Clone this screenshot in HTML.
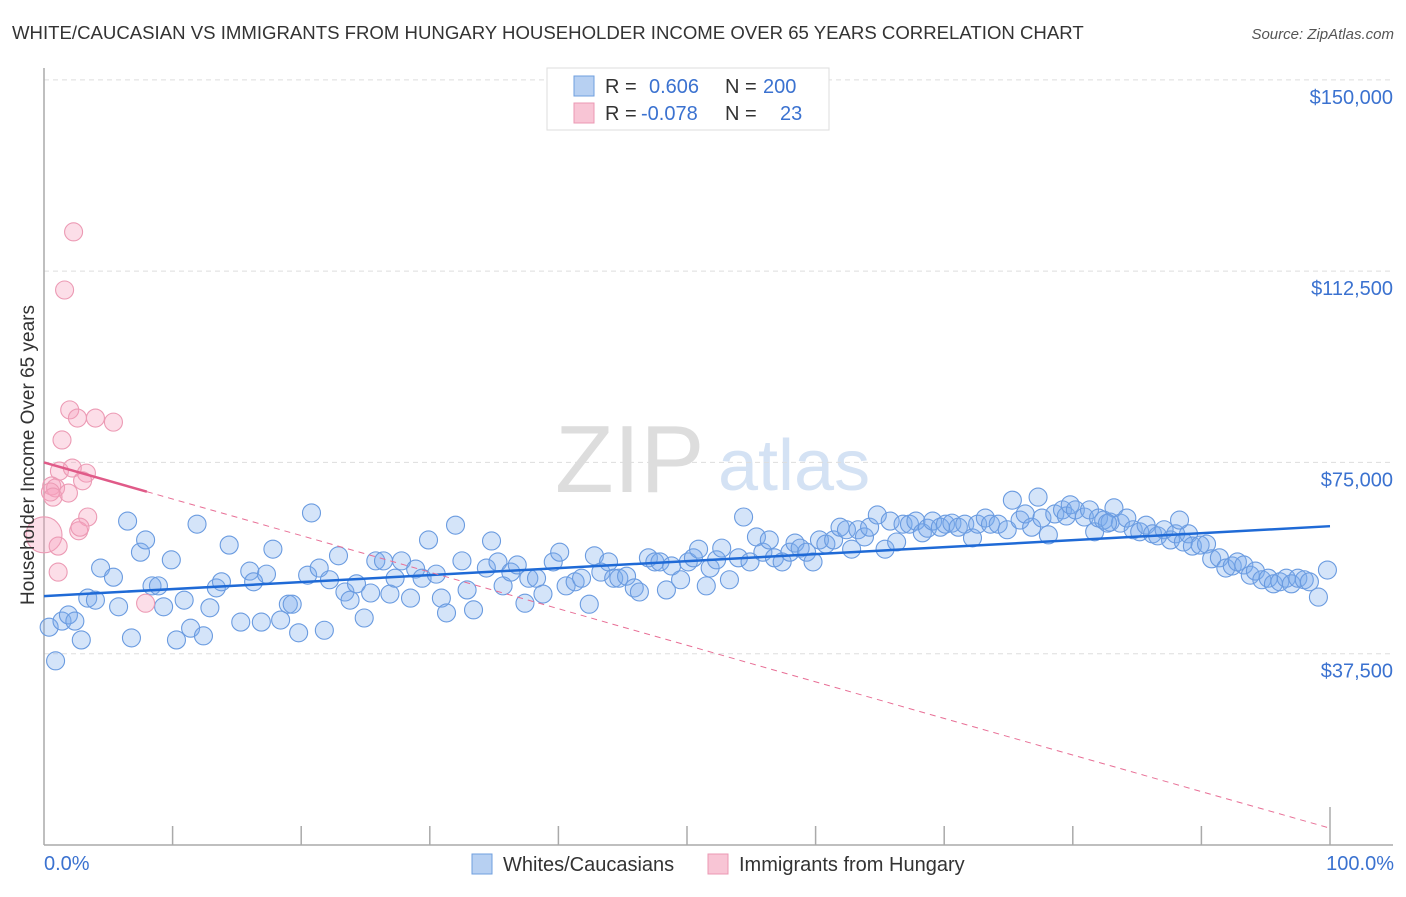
<!DOCTYPE html>
<html><head><meta charset="utf-8"><style>
body{margin:0;background:#fff;font-family:"Liberation Sans",sans-serif;}
svg text{font-family:"Liberation Sans",sans-serif;}
</style></head><body>
<svg id="chart" width="1406" height="892">
<text x="12" y="39" font-size="18.6" fill="#333">WHITE/CAUCASIAN VS IMMIGRANTS FROM HUNGARY HOUSEHOLDER INCOME OVER 65 YEARS CORRELATION CHART</text>
<text x="1394" y="39" font-size="15" fill="#555" font-style="italic" text-anchor="end">Source: ZipAtlas.com</text>
<text x="555" y="492" font-size="96" fill="#ddd" font-family="Liberation Serif,serif">ZIP</text>
<text x="718" y="490" font-size="72" fill="#d4e2f4">atlas</text>
<g id="grid"></g><g id="axes"></g><g id="pts"></g><g id="lines"></g>
<text transform="translate(34,455) rotate(-90)" font-size="19" fill="#333" text-anchor="middle">Householder Income Over 65 years</text>
<text x="44" y="870" font-size="20" fill="#3b72d0">0.0%</text>
<text x="1394" y="870" font-size="20" fill="#3b72d0" text-anchor="end">100.0%</text>
<g>
<rect x="547" y="68" width="282" height="62" fill="#fff" stroke="#ddd"/>
<rect x="574" y="76" width="20" height="20" fill="#b7d0f2" stroke="#6f9fdf"/>
<rect x="574" y="103" width="20" height="20" fill="#f8c5d5" stroke="#eb98b3"/>
<text x="605" y="93" font-size="20" fill="#333">R = </text><text x="649" y="93" font-size="20" fill="#3b72d0">0.606</text>
<text x="725" y="93" font-size="20" fill="#333">N = </text><text x="763" y="93" font-size="20" fill="#3b72d0">200</text>
<text x="605" y="120" font-size="20" fill="#333">R = </text><text x="641" y="120" font-size="20" fill="#3b72d0">-0.078</text>
<text x="725" y="120" font-size="20" fill="#333">N = </text><text x="780" y="120" font-size="20" fill="#3b72d0">23</text>
</g>
<g>
<rect x="472" y="854" width="20" height="20" fill="#b7d0f2" stroke="#6f9fdf"/>
<text x="503" y="871" font-size="20" fill="#333">Whites/Caucasians</text>
<rect x="708" y="854" width="20" height="20" fill="#f8c5d5" stroke="#eb98b3"/>
<text x="739" y="871" font-size="20" fill="#333">Immigrants from Hungary</text>
</g>
</svg>
<script>
const yTicks=[37500,75000,112500,150000];
const yTickLabels=["$37,500","$75,000","$112,500","$150,000"];
const blueX=[0.4,0.9,1.4,1.9,2.4,2.9,3.4,4.0,4.4,5.4,5.8,6.5,6.8,7.5,7.9,8.4,8.9,9.3,9.9,10.3,10.9,11.4,11.9,12.4,12.9,13.4,13.8,14.4,15.3,16.0,16.3,16.9,17.3,17.8,18.4,19.0,19.3,19.8,20.5,20.8,21.4,21.8,22.2,22.9,23.4,23.8,24.3,24.9,25.4,25.8,26.4,26.9,27.3,27.8,28.5,28.9,29.4,29.9,30.5,30.9,31.3,32.0,32.5,32.9,33.4,34.4,34.8,35.3,35.7,36.3,36.8,37.4,37.7,38.3,38.8,39.6,40.1,40.6,41.3,41.8,42.4,42.8,43.3,43.9,44.3,44.7,45.3,45.9,46.3,47.0,47.5,47.9,48.4,48.8,49.5,50.1,50.5,50.9,51.5,51.8,52.3,52.7,53.3,54.0,54.4,54.9,55.4,55.9,56.4,56.8,57.4,58.0,58.4,58.8,59.3,59.8,60.3,60.8,61.4,61.9,62.4,62.8,63.3,63.8,64.2,64.8,65.4,65.8,66.3,66.8,67.3,67.8,68.3,68.7,69.1,69.7,70.1,70.6,71.1,71.6,72.2,72.6,73.2,73.6,74.2,74.9,75.3,75.9,76.3,76.8,77.3,77.6,78.1,78.6,79.2,79.5,79.8,80.2,80.9,81.3,81.7,82.0,82.4,82.9,83.2,83.7,84.2,84.7,85.2,85.7,86.2,86.6,87.1,87.6,88.0,88.6,89.0,89.3,89.9,90.4,90.8,91.4,91.9,92.4,92.8,93.3,93.8,94.2,94.7,95.2,95.6,96.1,96.6,97.0,97.5,98.0,98.4,99.1,99.8,88.3,82.7];
const blueY=[42.7,36.1,43.9,45.1,43.9,40.2,48.4,48.0,54.3,52.5,46.7,63.5,40.6,57.4,59.8,50.8,50.8,46.7,55.9,40.2,48.0,42.5,62.9,41.0,46.5,50.4,51.6,58.8,43.7,53.7,51.6,43.7,53.1,58.0,44.1,47.2,47.2,41.6,52.9,65.1,54.3,42.1,52.0,56.7,49.6,48.0,51.2,44.5,49.4,55.7,55.7,49.2,52.3,55.7,48.4,54.1,52.3,59.8,53.1,48.4,45.5,62.7,55.7,50.0,46.1,54.3,59.6,55.5,50.8,53.5,54.9,47.4,52.3,52.3,49.2,55.5,57.4,50.8,51.6,52.3,47.2,56.7,53.5,55.5,52.3,52.3,52.7,50.4,49.6,56.3,55.5,55.5,50.0,54.7,52.0,55.5,56.3,58.0,50.8,54.3,55.9,58.2,52.0,56.3,64.3,55.5,60.4,57.4,59.8,56.3,55.5,57.4,59.2,58.2,57.4,55.5,59.8,59.0,59.8,62.3,61.8,58.0,61.8,60.4,62.3,64.7,58.0,63.5,59.4,62.9,62.9,63.5,61.2,62.1,63.5,62.3,62.9,63.1,62.3,62.9,60.2,62.9,64.1,62.9,62.9,61.8,67.6,63.7,64.9,62.3,68.2,64.1,60.8,64.9,65.7,64.5,66.7,65.7,64.3,65.7,61.4,64.1,63.7,63.3,66.1,63.1,64.1,61.8,61.4,62.7,61.0,60.6,61.8,59.8,61.0,59.4,61.0,58.6,58.8,59.0,56.1,56.3,54.3,54.7,55.5,54.9,52.9,53.7,52.0,52.3,51.2,51.6,52.3,51.2,52.3,52.0,51.6,48.6,53.9,63.7,63.1];
const pinkX=[2.3,1.6,2.0,2.6,4.0,5.4,1.4,1.2,2.2,3.3,3.0,0.6,0.9,0.5,1.9,0.7,0.0,1.1,3.4,2.7,2.8,1.1,7.9];
const pinkY=[120.2,108.8,85.3,83.7,83.7,82.9,79.4,73.3,73.9,72.9,71.4,70.4,70.0,69.2,69.0,68.2,60.8,58.6,64.3,61.6,62.3,53.5,47.4];
const blueTrend=[48.8,62.5];
const pinkTrend=[75.0,3.3];
const NS="http://www.w3.org/2000/svg";
const X0=44,PX=12.86,Y0=845,PY=5.101;
const xs=p=>X0+p*PX;
const ys=v=>Y0-v*PY;
function mk(tag,attrs,parent){const e=document.createElementNS(NS,tag);for(const k in attrs)e.setAttribute(k,attrs[k]);document.getElementById(parent).appendChild(e);return e;}
yTicks.forEach((t,i)=>{
 const g=mk('line',{x1:44,x2:1393,y1:ys(t/1000),y2:ys(t/1000),stroke:'#ddd','stroke-dasharray':'5,4'},'grid');
 
 
 const l=mk('text',{x:1393,y:ys(t/1000)+24,'font-size':20,fill:'#3b72d0','text-anchor':'end'},'grid');
 l.textContent=yTickLabels[i];
 
 
});
let a=mk('line',{x1:44,x2:44,y1:68,y2:845,stroke:'#aaa','stroke-width':1.5},'axes');


a=mk('line',{x1:44,x2:1393,y1:845,y2:845,stroke:'#aaa','stroke-width':1.5},'axes');


for(let i=1;i<=10;i++){
 const t=mk('line',{x1:xs(i*10),x2:xs(i*10),y1:i==10?807:826,y2:845,stroke:'#aaa','stroke-width':1.5},'axes');
 
 
}
blueX.forEach((x,i)=>{
 const c=mk('circle',{cx:xs(x),cy:ys(blueY[i]),r:9,fill:'rgba(120,170,235,0.32)',stroke:'#6a9be0','stroke-width':1.1},'pts');
 
 
});
pinkX.forEach((x,i)=>{
 const c=mk('circle',{cx:xs(x),cy:ys(pinkY[i]),r:x==0?18:9,fill:'rgba(245,160,190,0.35)',stroke:'#ec9ab4','stroke-width':1.1},'pts');
 
 
});
let L=mk('line',{x1:xs(0),x2:xs(100),y1:ys(blueTrend[0]),y2:ys(blueTrend[1]),stroke:'#1f6ad6','stroke-width':2.5},'lines');


const pv=p=>pinkTrend[0]+(pinkTrend[1]-pinkTrend[0])*p/100;
L=mk('line',{x1:xs(8),x2:xs(100),y1:ys(pv(8)),y2:ys(pv(100)),stroke:'#e86f96','stroke-width':1,'stroke-dasharray':'6,5'},'lines');


L=mk('line',{x1:xs(0),x2:xs(8),y1:ys(pv(0)),y2:ys(pv(8)),stroke:'#e05a88','stroke-width':2.5},'lines');


</script>
</body></html>
